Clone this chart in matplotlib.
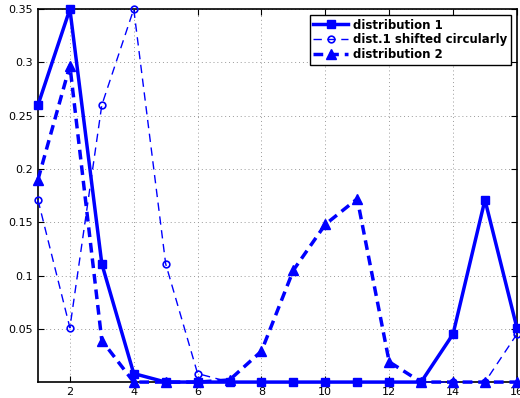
import matplotlib
matplotlib.use("Agg")
import matplotlib.pyplot as plt
import numpy as np

x = np.arange(1, 17)
dist1 = [0.26, 0.35, 0.111, 0.008, 0.0, 0.0, 0.0, 0.0, 0.0, 0.0, 0.0, 0.0, 0.0, 0.045, 0.171, 0.051]
shifted = [0.171, 0.051, 0.26, 0.35, 0.111, 0.008, 0.0, 0.0, 0.0, 0.0, 0.0, 0.0, 0.0, 0.0, 0.0, 0.045]
dist2 = [0.19, 0.297, 0.039, 0.0, 0.0, 0.0, 0.002, 0.029, 0.105, 0.148, 0.172, 0.019, 0.0, 0.0, 0.0, 0.0]
xticks = [2, 4, 6, 8, 10, 12, 14, 16]
yticks = [0.05, 0.1, 0.15, 0.2, 0.25, 0.3, 0.35]
ytick_labels = ["0.05", "0.1", "0.15", "0.2", "0.25", "0.3", "0.35"]

fig = plt.figure(figsize=(5.2, 3.98), dpi=100)
ax = fig.add_axes([0.073, 0.040, 0.921, 0.937])
blue = "#0000ff"
ax.plot(x, dist1, color=blue, lw=2.5, marker="s", ms=5.5, label="distribution 1", zorder=3)
ax.plot(x, shifted, color=blue, lw=1.0, ls=(0, (6, 4)), marker="o", ms=4.8, mfc="none", mew=1.2,
        label="dist.1 shifted circularly", zorder=3)
ax.plot(x, dist2, color=blue, lw=2.5, ls=(0, (2.8, 1.7)), marker="^", ms=7, label="distribution 2", zorder=3)

ax.set_xlim(1, 16)
ax.set_ylim(0, 0.35)
ax.set_xticks(xticks)
ax.set_yticks(yticks)
ax.set_yticklabels(ytick_labels)
ax.tick_params(direction="in", labelsize=8, length=4, top=True, right=True)
ax.grid(True, ls=(0, (1, 3)), color="#999999", lw=0.7)
for s in ax.spines.values():
    s.set_linewidth(1.2)
    s.set_color("black")
for line in ax.lines:
    line.set_clip_on(False)

leg = ax.legend(loc="upper right", prop={"weight": "bold", "size": 8.5}, fancybox=False,
                edgecolor="black", framealpha=1, borderpad=0.3, labelspacing=0.15,
                handlelength=3.0, handletextpad=0.4, borderaxespad=0.5)
leg.get_frame().set_linewidth(1.0)

fig.savefig("out.png", dpi=100)
